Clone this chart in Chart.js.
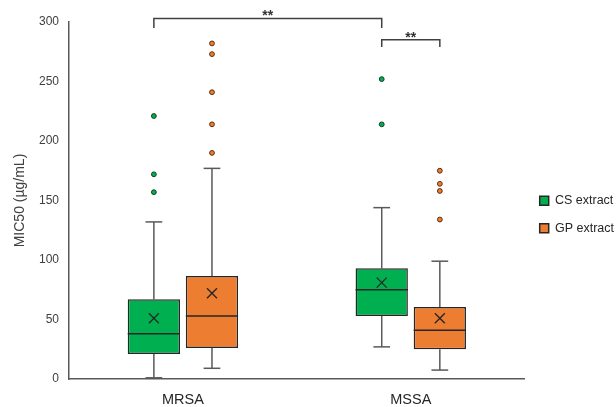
<!DOCTYPE html>
<html>
<head>
<meta charset="utf-8">
<script src="https://cdn.jsdelivr.net/npm/chart.js@4.4.1/dist/chart.umd.min.js"></script>
<style>
  html, body { margin: 0; padding: 0; background: #fff; }
</style>
</head>
<body>
<canvas id="chart" width="616" height="407"></canvas>
<script>
// categories and series
const categories = ['MRSA', 'MSSA'];
const seriesNames = ['CS extract', 'GP extract'];

// CS extract box stats (MRSA, MSSA)
const csMin = [1, 27];
const csQ1 = [21, 53];
const csMedian = [38, 75];
const csQ3 = [67, 93];
const csMax = [132, 144];
const csMean = [51, 81];
const csOutliers = [[221, 172, 157], [252, 214]];

// GP extract box stats (MRSA, MSSA)
const gpMin = [9, 7.5];
const gpQ1 = [26, 25];
const gpMedian = [53, 41];
const gpQ3 = [86.5, 60.5];
const gpMax = [177, 99];
const gpMean = [72, 51];
const gpOutliers = [[282, 273, 241, 214, 190], [175, 164, 158, 134]];

// y axis ticks
const yTicks = [0, 50, 100, 150, 200, 250, 300];

// significance marks: [dataset, category] pairs
const sigPairs = [
  { from: [0, 0], to: [0, 1], label: '**' },
  { from: [0, 1], to: [1, 1], label: '**' }
];

const stats = [
  { min: csMin, q1: csQ1, med: csMedian, q3: csQ3, max: csMax, mean: csMean, out: csOutliers },
  { min: gpMin, q1: gpQ1, med: gpMedian, q3: gpQ3, max: gpMax, mean: gpMean, out: gpOutliers }
];

const fillColors = ['#00B050', '#ED7D31'];
const dotBorders = ['#0d3d1f', '#5a2a0c'];
const FONT = "'Liberation Sans', Arial, sans-serif";

function seg(ctx, x1, y1, x2, y2) {
  ctx.beginPath();
  ctx.moveTo(x1, y1);
  ctx.lineTo(x2, y2);
  ctx.stroke();
}

// whiskers under the boxes, median / mean / outliers on top
const boxExtras = {
  id: 'boxExtras',
  beforeDatasetsDraw(chart) {
    const ctx = chart.ctx, y = chart.scales.y;
    ctx.save();
    ctx.strokeStyle = '#595959';
    ctx.lineWidth = 1.5;
    stats.forEach((s, di) => {
      chart.getDatasetMeta(di).data.forEach((bar, i) => {
        const x = bar.x, cap = bar.width * 0.16;
        const yMax = y.getPixelForValue(s.max[i]);
        const yMin = y.getPixelForValue(s.min[i]);
        seg(ctx, x, y.getPixelForValue(s.q3[i]), x, yMax);
        seg(ctx, x, y.getPixelForValue(s.q1[i]), x, yMin);
        seg(ctx, x - cap, yMax, x + cap, yMax);
        seg(ctx, x - cap, yMin, x + cap, yMin);
      });
    });
    ctx.restore();
  },
  afterDatasetsDraw(chart) {
    const ctx = chart.ctx, y = chart.scales.y;
    ctx.save();
    stats.forEach((s, di) => {
      chart.getDatasetMeta(di).data.forEach((bar, i) => {
        const x = bar.x, half = bar.width / 2;
        ctx.strokeStyle = '#262626';
        ctx.lineWidth = 1.5;
        const ym = y.getPixelForValue(s.med[i]);
        seg(ctx, x - half, ym, x + half, ym);
        const yMean = y.getPixelForValue(s.mean[i]);
        const r = 5;
        ctx.lineWidth = 1.3;
        seg(ctx, x - r, yMean - r, x + r, yMean + r);
        seg(ctx, x - r, yMean + r, x + r, yMean - r);
        s.out[i].forEach(v => {
          ctx.beginPath();
          ctx.arc(x, y.getPixelForValue(v), 2.4, 0, Math.PI * 2);
          ctx.fillStyle = fillColors[di];
          ctx.fill();
          ctx.lineWidth = 1;
          ctx.strokeStyle = dotBorders[di];
          ctx.stroke();
        });
      });
    });
    ctx.restore();
  },
  afterDraw(chart) {
    const ctx = chart.ctx, y = chart.scales.y;
    const levels = [[303, 295], [285, 279]];
    ctx.save();
    ctx.strokeStyle = '#404040';
    ctx.lineWidth = 1.5;
    ctx.fillStyle = '#333';
    ctx.font = 'bold 14px ' + FONT;
    ctx.textAlign = 'center';
    ctx.textBaseline = 'alphabetic';
    sigPairs.forEach((p, k) => {
      const x1 = chart.getDatasetMeta(p.from[0]).data[p.from[1]].x;
      const x2 = chart.getDatasetMeta(p.to[0]).data[p.to[1]].x;
      const yTop = y.getPixelForValue(levels[k][0]);
      const yEnd = y.getPixelForValue(levels[k][1]);
      ctx.beginPath();
      ctx.moveTo(x1, yEnd);
      ctx.lineTo(x1, yTop);
      ctx.lineTo(x2, yTop);
      ctx.lineTo(x2, yEnd);
      ctx.stroke();
      ctx.fillText(p.label, (x1 + x2) / 2, yTop + 2);
    });
    ctx.restore();
  }
};

new Chart(document.getElementById('chart'), {
  type: 'bar',
  data: {
    labels: categories,
    datasets: stats.map((s, di) => ({
      label: seriesNames[di],
      data: s.q1.map((v, i) => [v, s.q3[i]]),
      backgroundColor: fillColors[di],
      borderColor: '#262626',
      borderWidth: 1.5,
      borderSkipped: false,
      categoryPercentage: 0.51,
      barPercentage: 0.9
    }))
  },
  options: {
    responsive: false,
    animation: false,
    devicePixelRatio: 1,
    layout: { padding: { top: 22, right: -8, bottom: 0, left: 0 } },
    plugins: {
      legend: {
        position: 'right',
        labels: {
          boxWidth: 9,
          boxHeight: 9,
          padding: 15,
          color: '#262626',
          font: { family: FONT, size: 12.5 }
        }
      },
      tooltip: { enabled: false }
    },
    scales: {
      x: {
        grid: { display: false, drawTicks: false },
        border: { display: true, color: '#595959', width: 1.5 },
        ticks: { color: '#262626', padding: 12, font: { family: FONT, size: 14.5 } },
        afterFit(scale) { scale.height = 28; }
      },
      y: {
        min: 0,
        max: 300,
        afterBuildTicks(scale) { scale.ticks = yTicks.map(v => ({ value: v })); },
        grid: { display: false, drawTicks: false },
        border: { display: true, color: '#595959', width: 1.5 },
        ticks: { color: '#404040', padding: 10, font: { family: FONT, size: 12 } },
        title: {
          display: true,
          text: 'MIC50 (µg/mL)',
          color: '#404040',
          padding: { top: 12, bottom: 0 },
          font: { family: FONT, size: 14 }
        },
        afterFit(scale) { scale.width = 69; }
      }
    }
  },
  plugins: [boxExtras]
});
</script>
</body>
</html>
